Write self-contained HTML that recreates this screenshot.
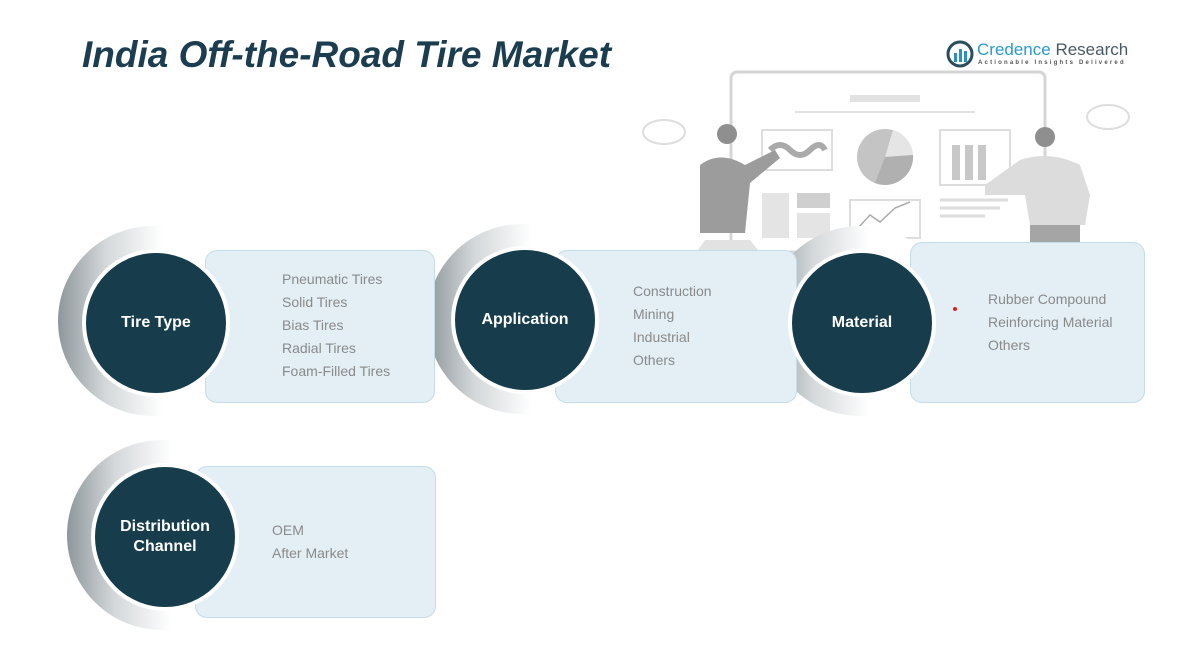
<!DOCTYPE html>
<html><head><style>
body{margin:0;width:1191px;height:651px;background:#fff;position:relative;overflow:hidden;font-family:"Liberation Sans",sans-serif}
.title{position:absolute;left:82px;top:34px;font-size:37px;font-weight:bold;font-style:italic;color:#1b3d4f}
.arc{position:absolute;width:190px;height:190px;border-radius:50%;background:linear-gradient(90deg,#8e979c 0%,#d4d8da 25%,#fff 55%)}
.c{position:absolute;width:140px;height:140px;border-radius:50%;background:#173d4d;border:4px solid #fff;color:#fff;font-weight:bold;font-size:16px;display:flex;align-items:center;justify-content:center;text-align:center;line-height:20px;box-sizing:content-box}
.box{position:absolute;background:#e3eff5;border:1.5px solid #c4dde8;border-radius:12px}
.t{position:absolute;color:#8a8a8a;font-size:14px;line-height:23px}
</style></head><body>
<div class="title">India Off-the-Road Tire Market</div>
<svg style="position:absolute;left:0;top:0" width="1191" height="651">
<g fill="none" stroke="#d5d5d5" stroke-width="3">
<rect x="731" y="72" width="314" height="180" rx="6"/>
</g>
<rect x="850" y="95" width="70" height="7" fill="#e2e2e2"/>
<line x1="795" y1="112" x2="975" y2="112" stroke="#e2e2e2" stroke-width="2"/>
<rect x="762" y="130" width="70" height="40" fill="none" stroke="#ddd" stroke-width="2"/>
<path d="M770 150 q10-10 20 0 t20 0 t15 0" stroke="#aaa" stroke-width="6" fill="none"/>
<circle cx="885" cy="157" r="28" fill="#c4c4c4"/>
<path d="M885 157 L893 130 A28 28 0 0 1 913 155 Z" fill="#e5e5e5"/>
<path d="M885 157 L913 155 A28 28 0 0 1 875 183 Z" fill="#b0b0b0"/>
<rect x="940" y="130" width="70" height="55" fill="none" stroke="#ddd" stroke-width="2"/>
<rect x="952" y="145" width="8" height="35" fill="#c8c8c8"/><rect x="965" y="145" width="8" height="35" fill="#c8c8c8"/><rect x="978" y="145" width="8" height="35" fill="#c8c8c8"/>
<rect x="762" y="193" width="27" height="45" fill="#e4e4e4"/><rect x="797" y="193" width="33" height="15" fill="#cfcfcf"/><rect x="797" y="213" width="33" height="25" fill="#e4e4e4"/>
<rect x="850" y="200" width="70" height="38" fill="none" stroke="#ddd" stroke-width="2"/>
<polyline points="858,228 870,215 880,222 895,208 910,202" fill="none" stroke="#aaa" stroke-width="1.5"/>
<line x1="940" y1="200" x2="1008" y2="200" stroke="#ddd" stroke-width="3"/><line x1="940" y1="208" x2="1000" y2="208" stroke="#ddd" stroke-width="3"/><line x1="940" y1="216" x2="985" y2="216" stroke="#ddd" stroke-width="3"/>
<ellipse cx="664" cy="132" rx="21" ry="12" fill="none" stroke="#ddd" stroke-width="2"/>
<ellipse cx="1108" cy="117" rx="21" ry="12" fill="none" stroke="#ddd" stroke-width="2"/>
<circle cx="727" cy="134" r="10" fill="#8f8f8f"/>
<path d="M700 165 q20-15 45 0 l30-15 5 8 -30 25 -5 50 -45 0 z" fill="#9c9c9c"/>
<path d="M705 240 l45 0 8 10 -60 0z" fill="#e2e2e2"/>
<circle cx="1045" cy="137" r="10" fill="#8f8f8f"/>
<path d="M1020 160 q30-10 60 5 l10 30 -5 30 -55 0 -5-30 -40 0 0-10z" fill="#dcdcdc"/>
<rect x="1030" y="225" width="50" height="17" fill="#a5a5a5"/>
</svg>
<svg style="position:absolute;left:946px;top:40px" width="28" height="28"><circle cx="14" cy="14" r="12" fill="none" stroke="#2b4c5c" stroke-width="3"/><rect x="8" y="13" width="3" height="9" fill="#2a8fc4"/><rect x="13" y="9" width="3" height="13" fill="#2a8fc4"/><rect x="18" y="11" width="3" height="11" fill="#2a8fc4"/></svg>
<div style="position:absolute;left:977px;top:40px;font-size:17px;color:#2a9bc9">Credence <span style="color:#4a5a64">Research</span></div>
<div style="position:absolute;left:978px;top:60px;font-size:6px;letter-spacing:2.2px;color:#555;font-weight:bold">Actionable Insights Delivered</div>

<div class="arc" style="left:58px;top:226px"></div>
<div class="arc" style="left:427px;top:224px"></div>
<div class="arc" style="left:765px;top:226px"></div>
<div class="arc" style="left:67px;top:440px"></div>

<div class="box" style="left:205px;top:250px;width:228px;height:151px"></div>
<div class="box" style="left:555px;top:250px;width:240px;height:151px"></div>
<div class="box" style="left:910px;top:242px;width:233px;height:159px"></div>
<div class="box" style="left:195px;top:466px;width:239px;height:150px"></div>

<div class="c" style="left:82px;top:249px">Tire Type</div>
<div class="c" style="left:451px;top:246px">Application</div>
<div class="c" style="left:788px;top:249px">Material</div>
<div class="c" style="left:91px;top:463px">Distribution<br>Channel</div>

<div class="t" style="left:282px;top:268px">Pneumatic Tires<br>Solid Tires<br>Bias Tires<br>Radial Tires<br>Foam-Filled Tires</div>
<div class="t" style="left:633px;top:280px">Construction<br>Mining<br>Industrial<br>Others</div>
<div class="t" style="left:988px;top:288px">Rubber Compound<br>Reinforcing Material<br>Others</div>
<div style="position:absolute;left:953px;top:307px;width:4px;height:4px;border-radius:50%;background:#e02020"></div>
<div class="t" style="left:272px;top:519px">OEM<br>After Market</div>
</body></html>
